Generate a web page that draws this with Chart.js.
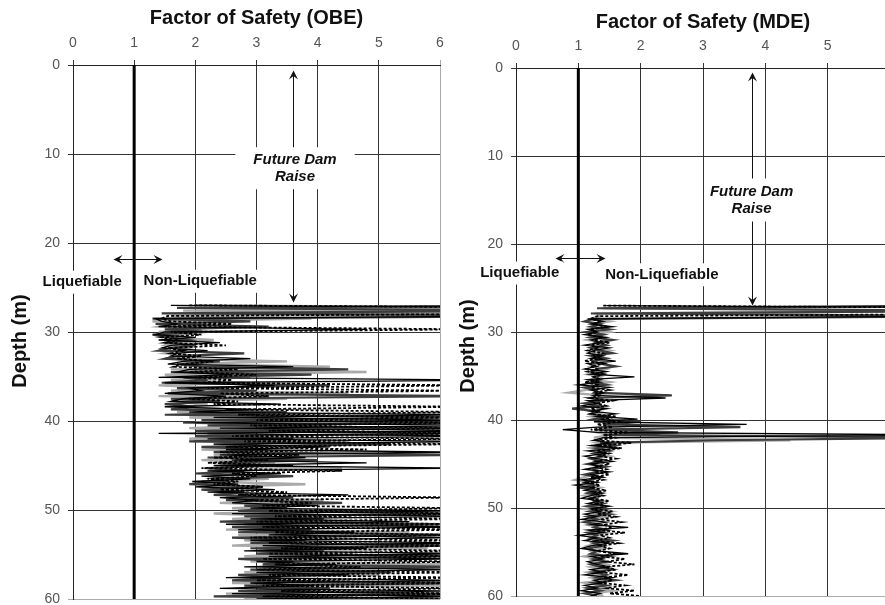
<!DOCTYPE html>
<html>
<head>
<meta charset="utf-8">
<title>Factor of Safety vs Depth</title>
<script src="https://cdn.jsdelivr.net/npm/chart.js@4.4.1/dist/chart.umd.min.js"></script>
<style>
  html, body { margin: 0; padding: 0; background: #fff; width: 885px; height: 605px; overflow: hidden; }
  canvas { position: absolute; top: 0; }
  #obeChart { left: 0; }
  #mdeChart { left: 445px; }
</style>
</head>
<body>
<canvas id="obeChart" width="445" height="605"></canvas>
<canvas id="mdeChart" width="450" height="605"></canvas>
<script>
"use strict";

// depth of every reading (m), shared by all traces
const depthSteps = [
  27.0, 27.3, 27.6, 27.9, 28.2, 28.5, 28.8, 29.1, 29.4, 29.7,
  30.0, 30.3, 30.6, 30.9, 31.2, 31.5, 31.8, 32.1, 32.4, 32.7,
  33.0, 33.3, 33.6, 33.9, 34.2, 34.5, 34.8, 35.1, 35.4, 35.7,
  36.0, 36.3, 36.6, 36.9, 37.2, 37.5, 37.8, 38.1, 38.4, 38.7,
  39.0, 39.3, 39.6, 39.9, 40.2, 40.5, 40.8, 41.1, 41.4, 41.7,
  42.0, 42.3, 42.6, 42.9, 43.2, 43.5, 43.8, 44.1, 44.4, 44.7,
  45.0, 45.3, 45.6, 45.9, 46.2, 46.5, 46.8, 47.1, 47.4, 47.7,
  48.0, 48.3, 48.6, 48.9, 49.2, 49.5, 49.8, 50.1, 50.4, 50.7,
  51.0, 51.3, 51.6, 51.9, 52.2, 52.5, 52.8, 53.1, 53.4, 53.7,
  54.0, 54.3, 54.6, 54.9, 55.2, 55.5, 55.8, 56.1, 56.4, 56.7,
  57.0, 57.3, 57.6, 57.9, 58.2, 58.5, 58.8, 59.1, 59.4, 59.7,
  60.0
];

// OBE factor of safety traces
const obeBlack = [
  1.6, 9, 8.5, 9, 7.5, 1.35, 1.45, 1.7, 1.4, 4.8,
  1.5, 1.35, 2.0, 1.4, 2.4, 1.6, 1.45, 2.2, 1.7, 1.6,
  2.9, 1.8, 1.55, 3.6, 1.9, 1.7, 2.6, 1.4, 7, 1.5,
  3.3, 1.9, 2.1, 1.5, 2.5, 1.8, 1.6, 3.4, 1.5, 2.9,
  1.9, 6.5, 2.3, 6.2, 1.8, 7, 2.4, 7, 1.4, 7,
  2.2, 6.5, 2.3, 4.2, 2.5, 6.2, 2.4, 3.8, 2.6, 4.8,
  2.3, 6.3, 2.2, 3.4, 2.1, 2.9, 1.95, 2.7, 2.0, 3.3,
  2.2, 4.5, 2.4, 3.0, 2.6, 4.0, 2.9, 6.2, 2.6, 6.5,
  2.9, 5.5, 2.5, 6.5, 2.7, 4.6, 3.2, 6.3, 2.9, 6.4,
  3.1, 4.8, 2.8, 6.5, 3.2, 6.2, 3.0, 4.3, 2.8, 6.4,
  3.0, 4.5, 2.5, 6.3, 2.9, 3.9, 2.4, 6.2, 2.6, 6.5,
  3.0
];
const obeDarkGray = [
  8, 1.7, 7.5, 1.45, 9, 1.3, 2.9, 1.35, 3.2, 1.5,
  2.2, 1.3, 1.6, 1.9, 1.5, 2.0, 1.6, 1.4, 2.8, 1.7,
  1.5, 2.4, 1.7, 2.1, 4.5, 1.6, 3.9, 1.8, 2.2, 1.45,
  4.2, 1.7, 3.0, 1.55, 6.5, 1.6, 2.4, 1.5, 2.0, 1.6,
  3.5, 1.5, 6.5, 2.1, 6.3, 2.2, 6.2, 2.0, 6.5, 2.0,
  3.6, 1.9, 5.2, 2.1, 3.1, 2.3, 6.5, 2.2, 4.0, 2.4,
  3.3, 2.2, 2.8, 2.0, 3.6, 2.3, 2.5, 1.9, 3.1, 2.1,
  2.8, 2.3, 3.6, 2.5, 4.4, 2.8, 3.5, 2.7, 6.4, 2.8,
  4.1, 2.4, 6.3, 2.6, 3.9, 2.7, 6.5, 2.6, 3.8, 2.9,
  6.4, 2.9, 4.1, 3.0, 6.3, 2.7, 3.6, 3.1, 6.5, 2.9,
  5.2, 2.7, 3.4, 2.6, 6.4, 2.8, 4.2, 2.7, 6.2, 2.3,
  6.5
];
const obeLightGray = [
  2.0, 8, 1.8, 8, 1.6, 3.9, 1.3, 1.6, 1.4, 2.1,
  1.4, 1.8, 1.5, 2.3, 1.6, 1.5, 1.9, 1.7, 1.5, 2.0,
  1.6, 3.5, 1.8, 4.2, 1.6, 4.8, 1.5, 2.9, 1.6, 2.8,
  1.4, 2.3, 1.6, 4.5, 1.4, 3.5, 1.7, 2.2, 1.8, 2.5,
  1.7, 2.8, 1.9, 4.0, 2.0, 3.0, 1.9, 3.3, 2.2, 2.6,
  1.9, 4.5, 2.3, 2.8, 2.1, 3.6, 2.3, 2.9, 2.1, 3.3,
  2.4, 4.4, 2.2, 2.9, 2.3, 3.2, 2.1, 3.8, 2.2, 2.9,
  2.4, 3.3, 2.5, 4.1, 2.4, 3.6, 2.6, 3.9, 2.3, 3.5,
  2.6, 4.6, 2.8, 3.7, 2.5, 5.5, 2.7, 4.0, 2.8, 3.4,
  2.6, 5.8, 3.0, 3.9, 2.8, 4.4, 2.9, 6.4, 3.1, 3.8,
  2.8, 5.0, 2.9, 3.5, 2.6, 6.2, 3.0, 4.0, 2.5, 3.6,
  2.8
];
const obeDashed = [
  1.9, 9, 8, 8.5, 1.55, 1.45, 1.6, 2.6, 1.5, 6.5,
  1.6, 2.1, 1.45, 1.7, 1.5, 2.5, 1.55, 1.8, 1.6, 2.1,
  1.7, 2.3, 1.8, 1.65, 2.7, 1.9, 3.0, 2.0, 2.6, 2.1,
  6.5, 2.2, 6.2, 2.4, 3.2, 1.9, 2.7, 2.3, 6.4, 2.5,
  6.5, 2.7, 6.4, 3.0, 6.5, 2.9, 6.4, 3.2, 6.5, 2.6,
  6.3, 2.8, 6.4, 2.5, 4.8, 2.4, 3.7, 2.3, 3.2, 2.2,
  3.6, 2.1, 4.4, 2.6, 3.0, 2.2, 2.7, 2.3, 3.1, 2.4,
  3.5, 2.7, 6.3, 2.8, 3.9, 3.1, 6.4, 3.2, 6.5, 3.3,
  6.5, 3.0, 6.4, 3.1, 6.5, 3.3, 6.3, 2.9, 6.5, 3.2,
  6.4, 3.4, 6.5, 3.2, 6.5, 3.1, 6.4, 3.3, 4.7, 3.0,
  6.5, 3.2, 6.4, 3.0, 6.5, 3.1, 6.3, 3.4, 6.5, 3.1,
  6.5
];

// MDE factor of safety traces
const mdeBlack = [
  1.45, 9, 8, 9, 7, 1.15, 1.4, 1.2, 1.55, 1.15,
  1.3, 1.1, 1.45, 1.2, 1.35, 1.1, 1.5, 1.25, 1.15, 1.4,
  1.2, 1.6, 1.15, 1.3, 1.1, 1.45, 1.2, 1.9, 1.15, 1.35,
  1.0, 1.5, 1.2, 1.4, 1.25, 2.4, 1.15, 1.3, 1.05, 1.45,
  1.2, 1.6, 1.3, 1.95, 1.25, 3.7, 1.3, 0.75, 1.3, 7,
  1.4, 1.25, 1.5, 1.2, 1.65, 1.15, 1.45, 1.1, 1.3, 1.55,
  1.2, 1.35, 1.1, 1.5, 1.2, 1.4, 1.05, 1.3, 0.95, 1.25,
  1.1, 1.4, 1.2, 1.05, 1.35, 1.15, 1.5, 1.2, 1.35, 1.1,
  1.3, 1.05, 1.45, 1.2, 1.8, 1.15, 1.4, 1.0, 1.3, 1.1,
  1.5, 1.2, 1.05, 1.35, 1.8, 1.2, 1.4, 1.15, 1.3, 1.5,
  1.2, 1.4, 1.1, 1.55, 1.25, 1.4, 1.1, 1.3, 1.05, 1.35,
  1.2
];
const mdeDarkGray = [
  7, 1.3, 8, 1.2, 8, 1.25, 1.1, 1.35, 1.2, 1.5,
  1.15, 1.4, 1.2, 1.55, 1.3, 1.45, 1.2, 1.35, 1.55, 1.2,
  1.45, 1.25, 1.35, 1.6, 1.3, 1.2, 1.4, 1.25, 1.35, 1.2,
  1.45, 1.1, 1.3, 1.25, 2.5, 1.2, 1.4, 1.1, 1.35, 0.9,
  1.3, 1.2, 1.45, 1.25, 2.0, 1.4, 3.6, 1.3, 2.6, 1.4,
  7, 3.2, 1.35, 1.6, 1.3, 1.5, 1.25, 1.4, 1.2, 1.35,
  1.15, 1.45, 1.25, 1.3, 1.1, 1.35, 1.2, 1.1, 1.25, 1.05,
  1.3, 1.15, 1.35, 1.2, 1.25, 1.4, 1.15, 1.45, 1.2, 1.5,
  1.15, 1.3, 1.1, 1.35, 1.25, 1.45, 1.15, 1.3, 1.2, 1.55,
  1.25, 1.4, 1.15, 1.3, 1.2, 1.5, 1.25, 1.45, 1.2, 1.35,
  1.55, 1.25, 1.45, 1.3, 1.6, 1.25, 1.45, 1.15, 1.35, 1.1,
  1.3
];
const mdeLightGray = [
  8, 1.4, 7, 1.3, 1.35, 1.2, 1.5, 1.25, 1.4, 1.3,
  1.5, 1.2, 1.35, 1.15, 1.4, 1.25, 1.3, 1.5, 1.2, 1.35,
  1.25, 1.4, 1.3, 1.2, 1.45, 1.3, 1.15, 1.35, 1.2, 1.5,
  1.25, 1.3, 1.1, 0.85, 1.35, 1.2, 1.4, 1.3, 1.2, 1.45,
  1.25, 1.35, 1.2, 1.5, 1.35, 1.6, 1.4, 1.9, 1.3, 1.5,
  1.25, 4.4, 1.3, 1.45, 1.2, 1.35, 1.3, 1.5, 1.25, 1.4,
  1.2, 1.3, 1.15, 1.4, 1.25, 1.1, 0.95, 1.2, 1.05, 1.35,
  1.2, 1.3, 1.1, 1.25, 1.4, 1.2, 1.35, 1.1, 1.5, 1.25,
  1.45, 1.2, 1.3, 1.15, 1.35, 1.25, 1.45, 1.2, 1.35, 1.25,
  1.3, 1.15, 1.4, 1.2, 1.3, 1.1, 1.35, 1.25, 1.45, 1.2,
  1.4, 1.15, 1.3, 1.2, 1.45, 1.1, 1.35, 1.2, 1.55, 1.25,
  1.4
];
const mdeDashed = [
  1.4, 9, 8.5, 9, 1.3, 1.2, 1.35, 1.25, 1.45, 1.2,
  1.3, 1.15, 1.35, 1.25, 1.5, 1.2, 1.3, 1.15, 1.4, 1.25,
  1.35, 1.1, 1.4, 1.2, 1.3, 1.15, 1.4, 1.25, 1.35, 1.1,
  1.3, 1.2, 1.5, 1.25, 1.35, 1.2, 1.55, 1.3, 1.45, 1.2,
  1.35, 1.2, 1.6, 1.4, 1.65, 1.3, 1.55, 1.2, 1.8, 1.4,
  1.6, 1.3, 1.85, 1.35, 1.7, 1.3, 1.5, 1.35, 1.6, 1.3,
  1.5, 1.25, 1.45, 1.3, 1.5, 1.2, 1.4, 1.15, 1.35, 1.2,
  1.45, 1.25, 1.4, 1.2, 1.5, 1.3, 1.45, 1.25, 1.55, 1.3,
  1.6, 1.35, 1.7, 1.4, 1.55, 1.3, 1.75, 1.35, 1.5, 1.3,
  1.65, 1.35, 1.5, 1.3, 1.6, 1.35, 1.75, 1.45, 1.9, 1.4,
  1.6, 1.35, 1.8, 1.4, 1.55, 1.35, 1.75, 1.45, 1.9, 1.5,
  2.0
];

// FS = 1 boundary line
const limitFS = [1, 1];
const limitDepth = [0, 60];

const FONT = '"Liberation Sans", Arial, Helvetica, sans-serif';
Chart.defaults.font.family = FONT;


function toPoints(fsValues, depths)
 {
   return depths.map((d, i) => ({ x: fsValues[i], y: d }));
 }

function arrowHead(ctx, x, y, ux, uy)
 {
   // tip at (x,y), (ux,uy) = unit direction the arrow points to
   const len = 9, half = 4.5, notch = 5.5;
   const px = -uy, py = ux;
   ctx.beginPath();
   ctx.moveTo(x, y);
   ctx.lineTo(x - ux*len + px*half, y - uy*len + py*half);
   ctx.lineTo(x - ux*notch, y - uy*notch);
   ctx.lineTo(x - ux*len - px*half, y - uy*len - py*half);
   ctx.closePath();
   ctx.fill();
 }

function doubleArrow(ctx, x1, y1, x2, y2)
 {
   const d = Math.hypot(x2 - x1, y2 - y1);
   const ux = (x2 - x1)/d, uy = (y2 - y1)/d;
   ctx.beginPath();
   ctx.moveTo(x1 + ux*5, y1 + uy*5);
   ctx.lineTo(x2 - ux*5, y2 - uy*5);
   ctx.stroke();
   arrowHead(ctx, x2, y2, ux, uy);
   arrowHead(ctx, x1, y1, -ux, -uy);
 }

function boxedText(ctx, cx, cy, note)
 {
   ctx.font = (note.italic ? 'italic ' : '') + 'bold 15px ' + FONT;
   const lineH = 17;
   let w = 0;
   note.lines.forEach(t => { w = Math.max(w, ctx.measureText(t).width); });
   const h = note.lines.length * lineH;
   ctx.fillStyle = '#fff';
   ctx.fillRect(cx - w/2 - note.padX, cy - h/2 - note.padY, w + 2*note.padX, h + 2*note.padY);
   ctx.fillStyle = '#111';
   ctx.textAlign = 'center';
   ctx.textBaseline = 'middle';
   note.lines.forEach((t, i) => ctx.fillText(t, cx, cy - h/2 + lineH*(i + 0.5)));
 }

const fsNotes = {
  id: 'fsNotes',
  afterDraw(chart, args, opts) {
    const ctx = chart.ctx;
    const sx = v => chart.scales.x.getPixelForValue(v);
    const sy = v => chart.scales.y.getPixelForValue(v);
    ctx.save();
    ctx.strokeStyle = '#111';
    ctx.fillStyle = '#111';
    ctx.lineWidth = 1;
    opts.arrows.forEach(a => doubleArrow(ctx, Math.round(sx(a.x1)) + 0.5, Math.round(sy(a.y1)) + 0.5,
                                              Math.round(sx(a.x2)) + 0.5, Math.round(sy(a.y2)) + 0.5));
    opts.notes.forEach(n => boxedText(ctx, sx(n.x), sy(n.y), n));

    // depth axis title
    ctx.translate(opts.yTitle.x, opts.yTitle.y);
    ctx.rotate(-Math.PI/2);
    ctx.font = 'bold 20px ' + FONT;
    ctx.fillStyle = '#111';
    ctx.textAlign = 'center';
    ctx.textBaseline = 'middle';
    ctx.fillText('Depth (m)', 0, 0);
    ctx.restore();
  }
};


function makePanel(canvasId, title, traces, geo, notes)
 {
   const datasets = [
      { label: 'FS = 1', data: toPoints(limitFS, limitDepth), borderColor: '#000', borderWidth: 3 }
     ,{ label: 'dashed', data: toPoints(traces.dashed, depthSteps), borderColor: '#000', borderWidth: 1.8, borderDash: [3, 2] }
     ,{ label: 'black', data: toPoints(traces.black, depthSteps), borderColor: '#000', borderWidth: 1.3 }
     ,{ label: 'dark gray', data: toPoints(traces.darkGray, depthSteps), borderColor: '#3c3c3c', borderWidth: 2.2 }
     ,{ label: 'light gray', data: toPoints(traces.lightGray, depthSteps), borderColor: '#aaaaaa', borderWidth: 2.4 }
   ];

   return new Chart(document.getElementById(canvasId), {
      type: 'line',
      data: { datasets: datasets },
      options: {
         indexAxis: 'y',
         responsive: false,
         animation: false,
         events: [],
         layout: { padding: { left: 0, top: 0, right: geo.padRight, bottom: geo.padBottom } },
         elements: { point: { radius: 0 }, line: { tension: 0, fill: false } },
         plugins: { legend: { display: false }, tooltip: { enabled: false }, fsNotes: notes },
         scales: {
            x: {
               type: 'linear', position: 'top', min: 0, max: 6,
               ticks: { stepSize: 1, color: '#555', font: { size: 14 }, padding: 8 },
               grid: { color: c => (c.tick && c.tick.value === 6) ? '#aaa' : '#333', tickLength: 5 },
               border: { color: '#222' },
               title: { display: true, text: title, color: '#111', font: { size: 20, weight: 'bold' }, padding: { top: geo.titleTop, bottom: 0 } },
               afterFit: s => { s.height = geo.top; s.paddingLeft = 0; s.paddingRight = 0; }
            },
            y: {
               type: 'linear', reverse: true, min: 0, max: 60,
               ticks: { stepSize: 10, color: '#555', font: { size: 14 }, padding: 8 },
               grid: { color: c => (c.tick && c.tick.value === 60) ? '#aaa' : '#333', tickLength: 5 },
               border: { color: '#222' },
               afterFit: s => { s.width = geo.left; s.paddingTop = 0; s.paddingBottom = 0; }
            }
         }
      },
      plugins: [fsNotes]
   });
 }


makePanel('obeChart', 'Factor of Safety (OBE)',
   { black: obeBlack, darkGray: obeDarkGray, lightGray: obeLightGray, dashed: obeDashed },
   { left: 73, top: 65, padRight: 5, padBottom: 6, titleTop: 6 },
   {
     yTitle: { x: 20, y: 341 },
     arrows: [ { x1: 3.6, y1: 0.6, x2: 3.6, y2: 26.6 }, { x1: 0.65, y1: 21.8, x2: 1.46, y2: 21.8 } ],
     notes: [
        { x: 3.63, y: 11.6, lines: ['Future Dam', 'Raise'], italic: true, padX: 18, padY: 4 }
       ,{ x: 0.15, y: 24.4, lines: ['Liquefiable'], padX: 4, padY: 3 }
       ,{ x: 2.08, y: 24.3, lines: ['Non-Liquefiable'], padX: 4, padY: 3 }
     ]
   });

makePanel('mdeChart', 'Factor of Safety (MDE)',
   { black: mdeBlack, darkGray: mdeDarkGray, lightGray: mdeLightGray, dashed: mdeDashed },
   { left: 71, top: 68, padRight: 5, padBottom: 9, titleTop: 10 },
   {
     yTitle: { x: 23, y: 346 },
     arrows: [ { x1: 3.78, y1: 0.4, x2: 3.78, y2: 26.9 }, { x1: 0.62, y1: 21.6, x2: 1.43, y2: 21.6 } ],
     notes: [
        { x: 3.78, y: 15.0, lines: ['Future Dam', 'Raise'], italic: true, padX: 4, padY: 4.5 }
       ,{ x: 0.06, y: 23.3, lines: ['Liquefiable'], padX: 4, padY: 3 }
       ,{ x: 2.34, y: 23.5, lines: ['Non-Liquefiable'], padX: 4, padY: 3 }
     ]
   });
</script>
</body>
</html>
